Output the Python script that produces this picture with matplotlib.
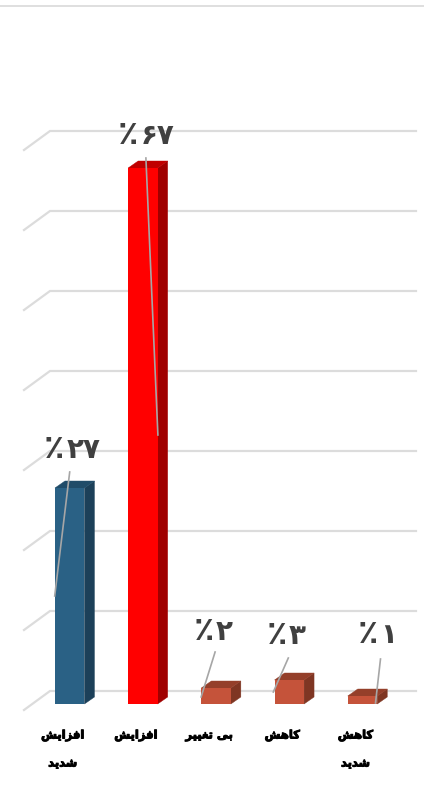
import matplotlib
matplotlib.use("Agg")
import matplotlib.pyplot as plt
import matplotlib.patheffects as pe
from matplotlib.patches import Polygon

# Data
category_rows = [["افزایش", "شدید"], ["افزایش"], ["بی تغییر"], ["کاهش"], ["کاهش", "شدید"]]
values = [27, 67, 2, 3, 1]
grid_values = [0, 10, 20, 30, 40, 50, 60, 70]

# Colours per bar: front, side, top
front_colors = ["#2a6185", "#ff0000", "#c5533a", "#c5533a", "#c5533a"]
side_colors = ["#1c4059", "#a00000", "#7f3623", "#7f3623", "#7f3623"]
top_colors = ["#204c69", "#c00000", "#943f2a", "#943f2a", "#943f2a"]

# Label and leader line offsets in px from the top centre of each bar
label_offsets = [(3, 42), (4, 36), (-1, 60), (-1, 48), (17, 65)]
leader_starts = [(0, 16), (3, 10), (-1, 36), (-1, 22), (18, 37)]
leader_ends = [(-15, -108), (15, -267), (-15, -9), (-16, -12), (13, -7)]

# Persian shaping, matplotlib does not join letters: isolated, final, initial, medial
forms = {
    "ا": ("\ufe8d", "\ufe8e", None, None),
    "ب": ("\ufe8f", "\ufe90", "\ufe91", "\ufe92"),
    "ت": ("\ufe95", "\ufe96", "\ufe97", "\ufe98"),
    "د": ("\ufea9", "\ufeaa", None, None),
    "ر": ("\ufead", "\ufeae", None, None),
    "ز": ("\ufeaf", "\ufeb0", None, None),
    "ش": ("\ufeb5", "\ufeb6", "\ufeb7", "\ufeb8"),
    "غ": ("\ufecd", "\ufece", "\ufecf", "\ufed0"),
    "ف": ("\ufed1", "\ufed2", "\ufed3", "\ufed4"),
    "ک": ("\ufb8e", "\ufb8f", "\ufb90", "\ufb91"),
    "ه": ("\ufee9", "\ufeea", "\ufeeb", "\ufeec"),
    "ی": ("\ufbfc", "\ufbfd", "\ufbfe", "\ufbff"),
}


def shape_word(word):
    out = []
    for i, ch in enumerate(word):
        prev_joins = i > 0 and forms[word[i - 1]][2] is not None
        next_joins = i < len(word) - 1 and forms[ch][2] is not None
        if prev_joins and next_joins:
            out.append(forms[ch][3])
        elif prev_joins:
            out.append(forms[ch][1])
        elif next_joins:
            out.append(forms[ch][2])
        else:
            out.append(forms[ch][0])
    return "".join(reversed(out))


def shape(text):
    return " ".join(shape_word(w) for w in reversed(text.split(" ")))


def persian_digits(v):
    return str(v).translate(str.maketrans("0123456789", "۰۱۲۳۴۵۶۷۸۹"))


W, H = 424, 800
PX_PER_UNIT = 8.0   # one percent is 8 px
PX_PER_CAT = 73.2
X0, Y0 = 69.7, 704  # first bar centre, baseline

fig = plt.figure(figsize=(W / 100, H / 100), dpi=100)
ax = fig.add_axes([0, 0, 1, 1])
ax.set_xlim(-X0 / PX_PER_CAT, (W - X0) / PX_PER_CAT)
ax.set_ylim(-(H - Y0) / PX_PER_UNIT, Y0 / PX_PER_UNIT)
ax.axis("off")

# depth of the 3d look, in data units
dx_bar = 10 / PX_PER_CAT
dy_bar = 7 / PX_PER_UNIT
bar_w = 29.5 / PX_PER_CAT
back_dy = 13 / PX_PER_UNIT
wall_left = (50 - X0) / PX_PER_CAT
wall_right = (416 - X0) / PX_PER_CAT
floor_left = (24 - X0) / PX_PER_CAT
floor_dy = -6 / PX_PER_UNIT

grid_color = "#dcdcdc"
for g in grid_values:
    ax.plot([floor_left, wall_left, wall_right],
            [g + floor_dy, g + back_dy, g + back_dy],
            color=grid_color, lw=1.6, solid_joinstyle="miter", zorder=1)

# rule at the top of the picture
fig.add_artist(plt.Line2D([0, 1], [1 - 5.8 / H, 1 - 5.8 / H], color="#dcdcdc", lw=1.3))

xs = list(range(len(values)))
ax.bar(xs, values, width=bar_w, color=front_colors, edgecolor="none", zorder=3)
for i, v in zip(xs, values):
    left = i - bar_w / 2
    right = i + bar_w / 2
    ax.add_patch(Polygon([(right, 0), (right + dx_bar, dy_bar), (right + dx_bar, v + dy_bar), (right, v)],
                         closed=True, fc=side_colors[i], ec=side_colors[i], lw=0.3, zorder=2.9))
    ax.add_patch(Polygon([(left, v), (right, v), (right + dx_bar, v + dy_bar), (left + dx_bar, v + dy_bar)],
                         closed=True, fc=top_colors[i], ec=top_colors[i], lw=0.3, zorder=2.9))

    # leader line from the label to the bar
    sx, sy = leader_starts[i]
    ex, ey = leader_ends[i]
    ax.plot([i + sx / PX_PER_CAT, i + ex / PX_PER_CAT],
            [v + sy / PX_PER_UNIT, v + ey / PX_PER_UNIT],
            color="#a6a6a6", lw=1.2, zorder=4)

    # percent sign is bigger than the digits, so two texts side by side
    digits = persian_digits(v)
    lx, ly = label_offsets[i]
    split = lx + 7 - 7.25 * len(digits)
    ax.annotate("٪", xy=(i, v), xytext=(split - 1, ly - 12), textcoords="offset pixels",
                ha="right", va="baseline", fontsize=24, fontweight="bold",
                color="#404040", family="DejaVu Sans", zorder=5)
    ax.annotate(digits, xy=(i, v), xytext=(split + 1, ly - 12), textcoords="offset pixels",
                ha="left", va="baseline", fontsize=20, fontweight="bold",
                color="#404040", family="DejaVu Sans", zorder=5)

    # category label, shifted left of the bar like the reference
    for row, word in enumerate(category_rows[i]):
        ax.annotate(shape(word), xy=(i, 0), xytext=(-7, -31 - 28 * row),
                    textcoords="offset pixels", ha="center", va="center",
                    fontsize=8.3, fontweight="bold", color="black", family="DejaVu Sans",
                    path_effects=[pe.withStroke(linewidth=0.7, foreground="black")])

fig.savefig("out.png", dpi=100)
